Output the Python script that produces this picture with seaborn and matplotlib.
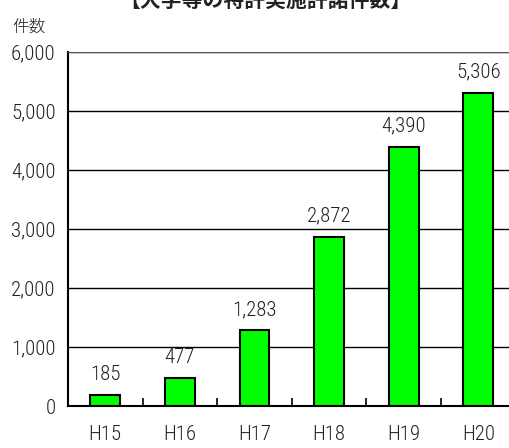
import matplotlib.pyplot as plt
import matplotlib.ticker as mticker
import numpy as np
import pandas as pd
import seaborn as sns

years = ['H15', 'H16', 'H17', 'H18', 'H19', 'H20']
counts = [185, 477, 1283, 2872, 4390, 5306]
title = '【大学等の特許実施許諾件数】'
ylabel = '件数'

df = pd.DataFrame({'year': years, 'count': counts})

sns.set_style('white')
plt.rcParams['font.family'] = ['Roboto Condensed', 'Liberation Sans Narrow', 'Noto Sans CJK JP', 'DejaVu Sans']
plt.rcParams['font.weight'] = 'light'

fig = plt.figure(figsize=(5.1, 4.48), dpi=100)
ax = fig.add_axes([0.1333, 0.09375, 0.8776, 0.7902])

sns.barplot(data=df, x='year', y='count', color='#00ff00', edgecolor='black',
            linewidth=1.5, width=0.4, saturation=1, ax=ax)

ax.set_ylim(0, 6000)
ax.set_xlim(-0.5, len(years) - 0.5)
ax.yaxis.set_major_locator(mticker.MultipleLocator(1000))
ax.yaxis.set_major_formatter(mticker.StrMethodFormatter('{x:,.0f}'))
ax.grid(axis='y', color='black', linewidth=1)
ax.set_axisbelow(True)

for side in ['top', 'right']:
    ax.spines[side].set_visible(False)
for side in ['left', 'bottom']:
    ax.spines[side].set_color('black')
    ax.spines[side].set_linewidth(1.5)
ax.axhline(6000, color='#555555', linewidth=1.5, zorder=3)

ax.set_xlabel('')
ax.set_ylabel('')
ax.tick_params(axis='x', which='major', length=0, pad=14, labelsize=15, colors='#222222')
ax.tick_params(axis='y', which='major', length=0, pad=9, labelsize=15, colors='#222222')
ax.set_xticks(np.arange(0.5, len(years) - 0.5), minor=True)
ax.tick_params(axis='x', which='minor', direction='in', length=6, width=1.2, color='black', bottom=True)

ax.bar_label(ax.containers[0], labels=[f'{v:,}' for v in counts], padding=8,
             fontsize=15, color='#222222')

fig.text(0.024, 0.94, ylabel, fontsize=12, family=['Noto Sans CJK JP'], color='#222222',
         va='center', ha='left')
fig.text(0.52, 1.0, title, fontsize=15, family=['Noto Sans CJK JP'], weight='bold',
         color='#222222', va='center', ha='center')

fig.savefig('out.png', dpi=100)
